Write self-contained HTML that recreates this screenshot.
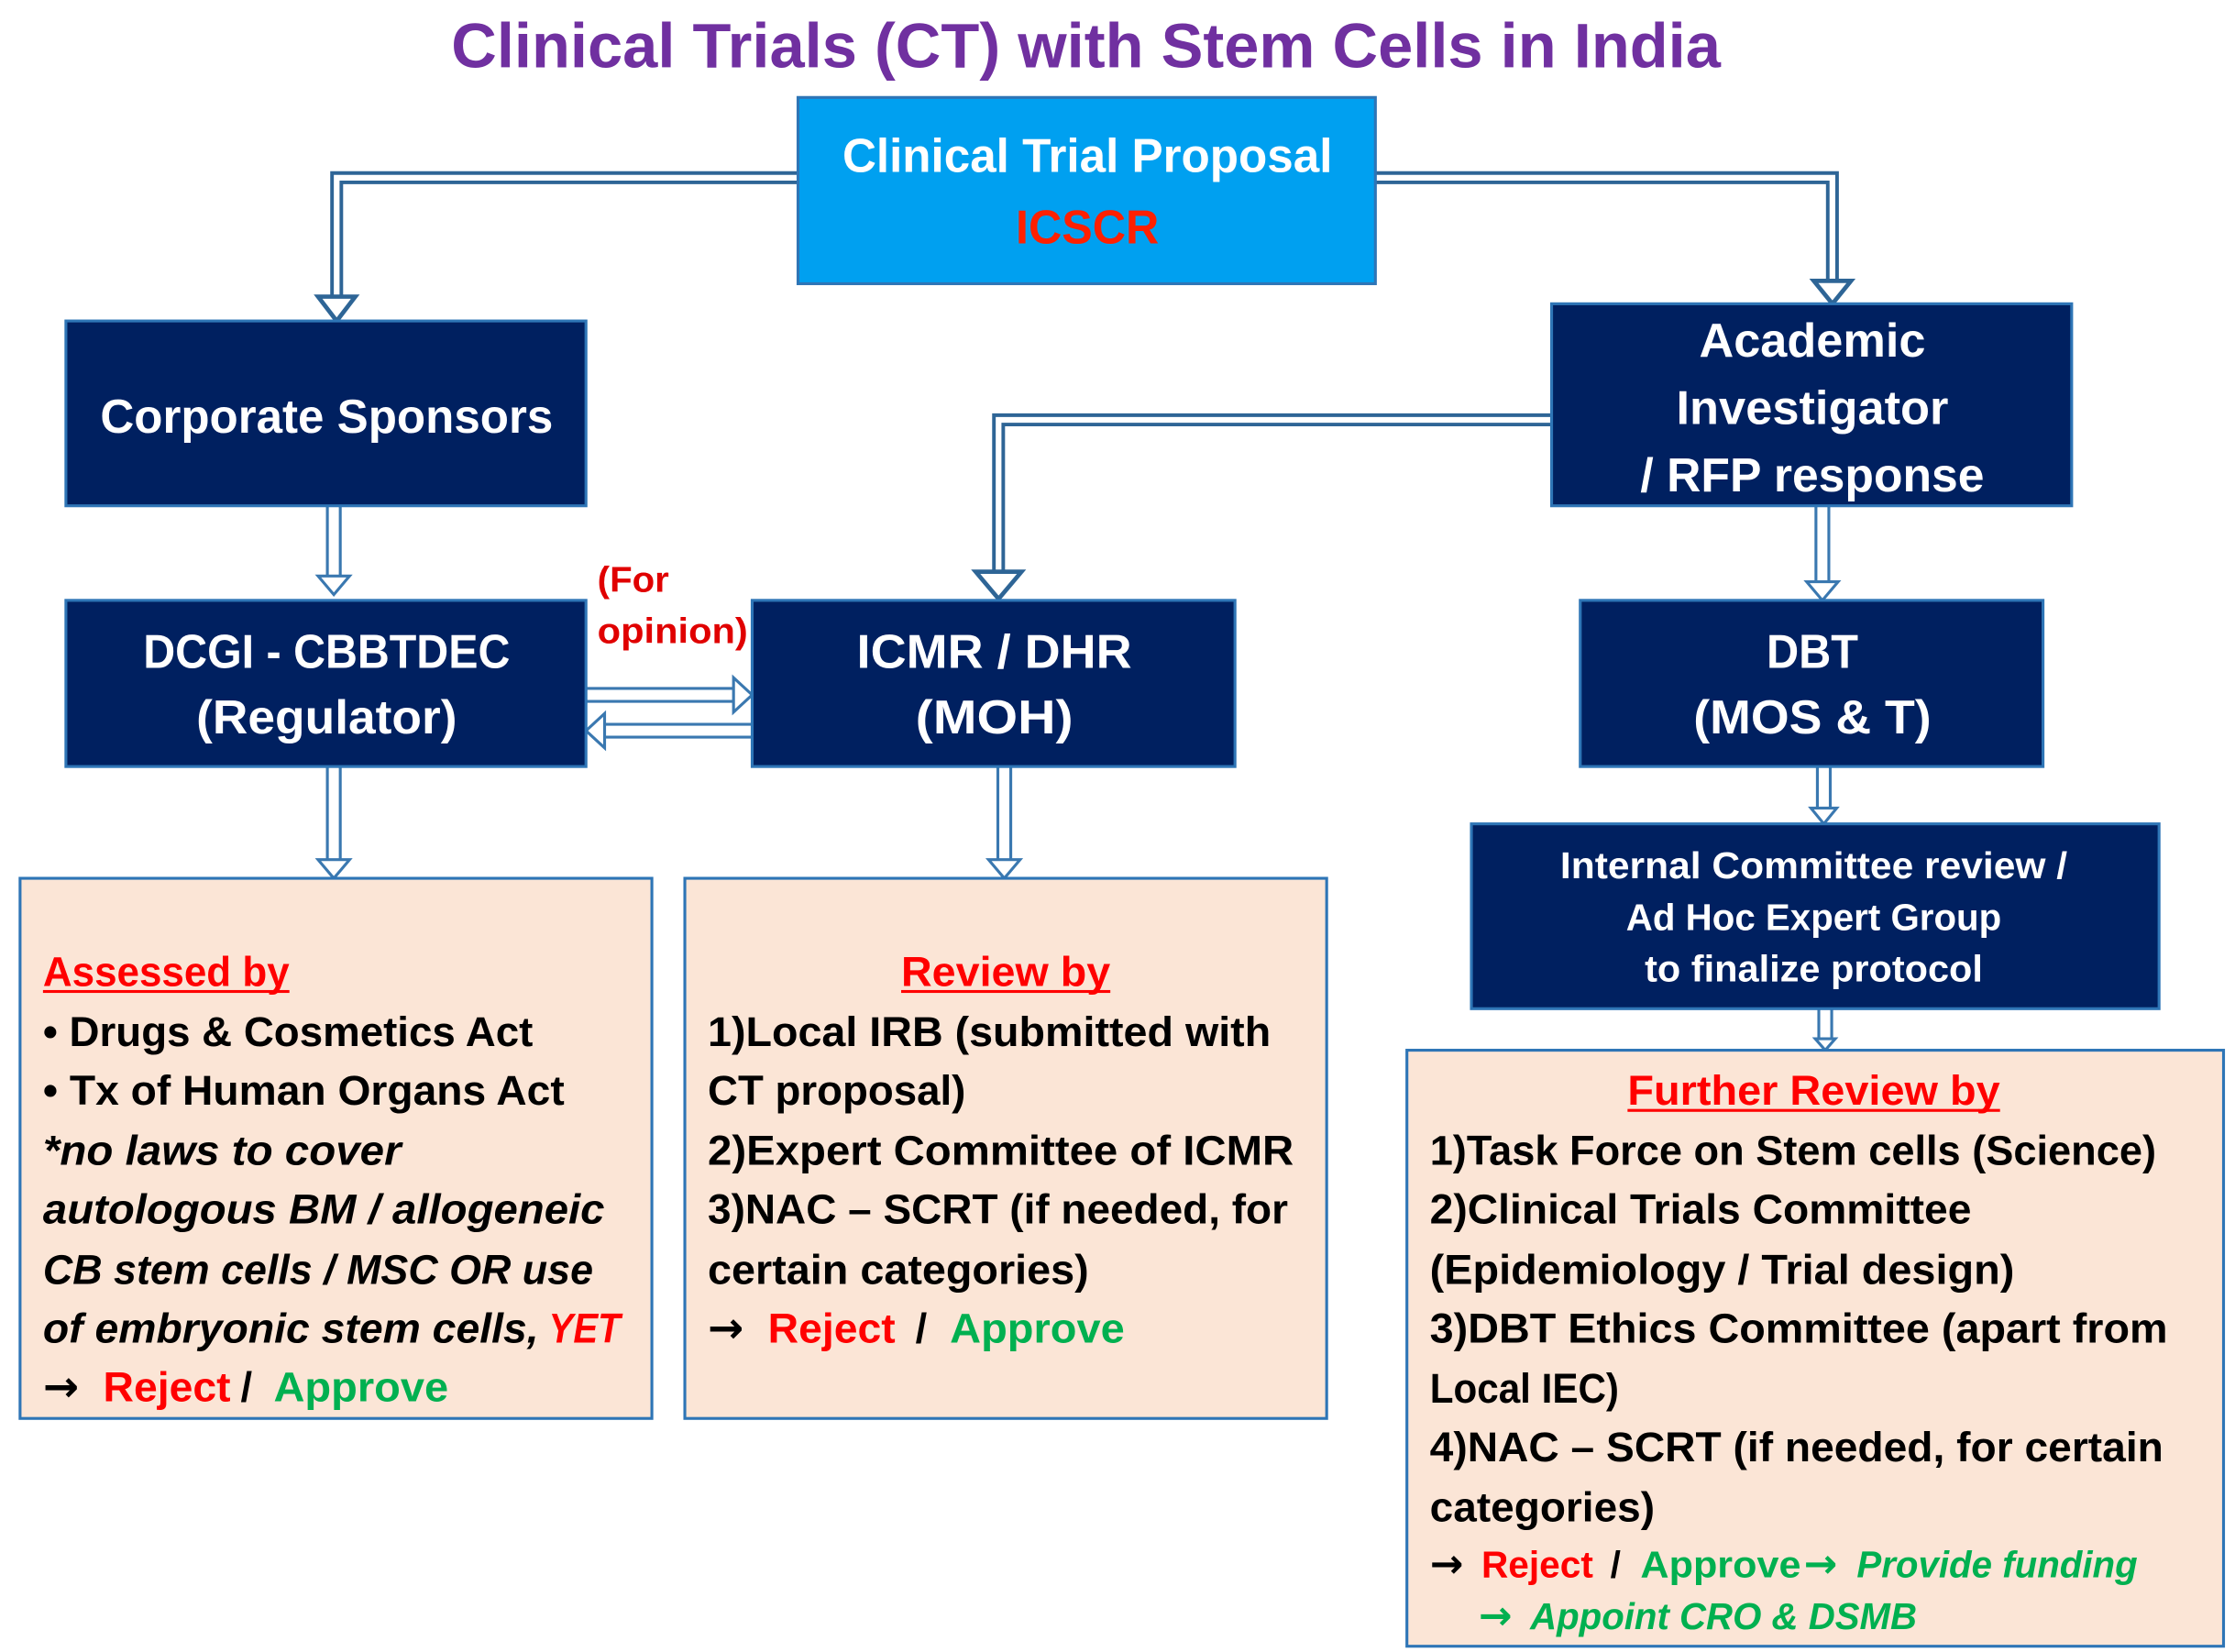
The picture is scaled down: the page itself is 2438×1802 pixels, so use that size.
<!DOCTYPE html>
<html><head><meta charset="utf-8"><style>
html,body{margin:0;padding:0;background:#fff}
svg{display:block}
text{font-family:"Liberation Sans",sans-serif;font-weight:bold}
.ar{font-family:"DejaVu Sans",sans-serif;font-weight:bold}
</style></head><body>
<svg width="2438" height="1802" viewBox="0 0 1560 1153" xmlns="http://www.w3.org/2000/svg">
<rect width="1560" height="1153" fill="#fff"/>
<text x="758" y="47" font-size="44" fill="#7030A0" text-anchor="middle" textLength="886" lengthAdjust="spacingAndGlyphs">Clinical Trials (CT) with Stem Cells in India</text>

<g fill="none" stroke-linejoin="miter">
<path d="M557,124 H235 V206" stroke="#2E6596" stroke-width="9"/>
<path d="M557,124 H235 V206" stroke="#fff" stroke-width="4"/>
<path d="M960,124 H1279 V196" stroke="#2E6596" stroke-width="9"/>
<path d="M960,124 H1279 V196" stroke="#fff" stroke-width="4"/>
<path d="M1083,293 H697 V400" stroke="#2E6596" stroke-width="9"/>
<path d="M1083,293 H697 V400" stroke="#fff" stroke-width="4"/>
</g>
<g fill="#fff" stroke="#2E6596" stroke-width="3">
<polygon points="222,207 248,207 235,224"/>
<polygon points="1266,196 1292,196 1279,212"/>
<polygon points="681,399 713,399 697,418"/>
</g>
<g fill="none">
<path d="M233,353 V403 M1272,353 V407 M233,535 V601 M701,535 V601 M1273,535 V565 M1274,704 V726" stroke="#3A78B0" stroke-width="11"/>
<path d="M233,353 V405 M1272,353 V409 M233,535 V603 M701,535 V603 M1273,535 V567 M1274,704 V728" stroke="#fff" stroke-width="7"/>
<path d="M409,485 H513 M525,510 H421" stroke="#3A78B0" stroke-width="11"/>
<path d="M407,485 H515 M527,510 H419" stroke="#fff" stroke-width="7"/>
</g>
<g fill="#fff" stroke="#3A78B0" stroke-width="2">
<polygon points="222,402 244,402 233,415"/>
<polygon points="1261,406 1283,406 1272,419"/>
<polygon points="222,600 244,600 233,613"/>
<polygon points="690,600 712,600 701,613"/>
<polygon points="1264,564 1282,564 1273,575"/>
<polygon points="1267,725 1281,725 1274,733"/>
<polygon points="512,473 512,497 525,485"/>
<polygon points="422,498 422,522 409,510"/>
</g>

<rect x="557" y="68" width="403" height="130" fill="#00A0F0" stroke="#2E75B6" stroke-width="2"/>
<text x="759" y="120" font-size="33" fill="#fff" text-anchor="middle" textLength="342" lengthAdjust="spacingAndGlyphs">Clinical Trial Proposal</text>
<text x="759" y="170" font-size="33" fill="#FF2000" text-anchor="middle" textLength="100" lengthAdjust="spacingAndGlyphs">ICSCR</text>

<g fill="#002060" stroke="#2E75B6" stroke-width="2">
<rect x="46" y="224" width="363" height="129"/>
<rect x="1083" y="212" width="363" height="141"/>
<rect x="46" y="419" width="363" height="116"/>
<rect x="525" y="419" width="337" height="116"/>
<rect x="1103" y="419" width="323" height="116"/>
<rect x="1027" y="575" width="480" height="129"/>
</g>
<g fill="#fff" font-size="33" text-anchor="middle">
<text x="228" y="302" textLength="316" lengthAdjust="spacingAndGlyphs">Corporate Sponsors</text>
<text x="1265" y="249" textLength="158" lengthAdjust="spacingAndGlyphs">Academic</text>
<text x="1265" y="296" textLength="190" lengthAdjust="spacingAndGlyphs">Investigator</text>
<text x="1265" y="343" textLength="240" lengthAdjust="spacingAndGlyphs">/ RFP response</text>
<text x="228" y="466" textLength="256" lengthAdjust="spacingAndGlyphs">DCGI - CBBTDEC</text>
<text x="228" y="512" textLength="182" lengthAdjust="spacingAndGlyphs">(Regulator)</text>
<text x="694" y="466" textLength="192" lengthAdjust="spacingAndGlyphs">ICMR / DHR</text>
<text x="694" y="512" textLength="110" lengthAdjust="spacingAndGlyphs">(MOH)</text>
<text x="1265" y="466" textLength="64" lengthAdjust="spacingAndGlyphs">DBT</text>
<text x="1265" y="512" textLength="166" lengthAdjust="spacingAndGlyphs">(MOS &amp; T)</text>
</g>
<g fill="#fff" font-size="26" text-anchor="middle">
<text x="1266" y="613" textLength="354" lengthAdjust="spacingAndGlyphs">Internal Committee review /</text>
<text x="1266" y="649" textLength="262" lengthAdjust="spacingAndGlyphs">Ad Hoc Expert Group</text>
<text x="1266" y="685" textLength="236" lengthAdjust="spacingAndGlyphs">to finalize protocol</text>
</g>
<g fill="#E00000" font-size="25">
<text x="417" y="413" textLength="50" lengthAdjust="spacingAndGlyphs">(For</text>
<text x="417" y="449" textLength="105" lengthAdjust="spacingAndGlyphs">opinion)</text>
</g>

<g fill="#FBE5D6" stroke="#2E75B6" stroke-width="2">
<rect x="14" y="613" width="441" height="377"/>
<rect x="478" y="613" width="448" height="377"/>
<rect x="982" y="733" width="570" height="416"/>
</g>

<g font-size="29" fill="#000">
<text x="30" y="688" fill="#FF0000" textLength="172" lengthAdjust="spacingAndGlyphs">Assessed by</text>
<rect x="30" y="691" width="172" height="2" fill="#FF0000"/>
<text x="30" y="730" textLength="342" lengthAdjust="spacingAndGlyphs">• Drugs &amp; Cosmetics Act</text>
<text x="30" y="771" textLength="364" lengthAdjust="spacingAndGlyphs">• Tx of Human Organs Act</text>
<g font-style="italic">
<text x="30" y="813" textLength="250" lengthAdjust="spacingAndGlyphs">*no laws to cover</text>
<text x="30" y="854" textLength="392" lengthAdjust="spacingAndGlyphs">autologous  BM / allogeneic</text>
<text x="30" y="896" textLength="384" lengthAdjust="spacingAndGlyphs">CB stem cells / MSC OR use</text>
<text x="30" y="937" textLength="346" lengthAdjust="spacingAndGlyphs">of embryonic stem cells,</text>
<text x="383" y="937" fill="#FF0000" textLength="50" lengthAdjust="spacingAndGlyphs">YET</text>
</g>
<text class="ar" x="30" y="978" font-size="30">→</text>
<text x="72" y="978" fill="#FF0000" textLength="89" lengthAdjust="spacingAndGlyphs">Reject</text>
<text x="168" y="978">/</text>
<text x="191" y="978" fill="#00B050" textLength="122" lengthAdjust="spacingAndGlyphs">Approve</text>
</g>

<g font-size="29" fill="#000">
<text x="702" y="688" fill="#FF0000" text-anchor="middle" textLength="146" lengthAdjust="spacingAndGlyphs">Review by</text>
<rect x="629" y="691" width="146" height="2" fill="#FF0000"/>
<text x="494" y="730" textLength="393" lengthAdjust="spacingAndGlyphs">1)Local IRB (submitted with</text>
<text x="494" y="771" textLength="180" lengthAdjust="spacingAndGlyphs">CT proposal)</text>
<text x="494" y="813" textLength="409" lengthAdjust="spacingAndGlyphs">2)Expert Committee of ICMR</text>
<text x="494" y="854" textLength="405" lengthAdjust="spacingAndGlyphs">3)NAC – SCRT (if needed, for</text>
<text x="494" y="896" textLength="266" lengthAdjust="spacingAndGlyphs">certain categories)</text>
<text class="ar" x="494" y="937" font-size="30">→</text>
<text x="536" y="937" fill="#FF0000" textLength="89" lengthAdjust="spacingAndGlyphs">Reject</text>
<text x="639" y="937">/</text>
<text x="663" y="937" fill="#00B050" textLength="122" lengthAdjust="spacingAndGlyphs">Approve</text>
</g>

<g font-size="29" fill="#000">
<text x="1266" y="771" fill="#FF0000" text-anchor="middle" textLength="260" lengthAdjust="spacingAndGlyphs">Further Review by</text>
<rect x="1136" y="774" width="260" height="2" fill="#FF0000"/>
<text x="998" y="813" textLength="507" lengthAdjust="spacingAndGlyphs">1)Task Force on Stem cells (Science)</text>
<text x="998" y="854" textLength="378" lengthAdjust="spacingAndGlyphs">2)Clinical Trials Committee</text>
<text x="998" y="896" textLength="408" lengthAdjust="spacingAndGlyphs">(Epidemiology / Trial design)</text>
<text x="998" y="937" textLength="515" lengthAdjust="spacingAndGlyphs">3)DBT Ethics Committee (apart from</text>
<text x="998" y="979" textLength="132" lengthAdjust="spacingAndGlyphs">Local IEC)</text>
<text x="998" y="1020" textLength="512" lengthAdjust="spacingAndGlyphs">4)NAC – SCRT (if needed, for certain</text>
<text x="998" y="1062" textLength="157" lengthAdjust="spacingAndGlyphs">categories)</text>
<g font-size="26">
<text class="ar" x="998" y="1101" font-size="28">→</text>
<text x="1034" y="1101" fill="#FF0000" textLength="78" lengthAdjust="spacingAndGlyphs">Reject</text>
<text x="1124" y="1101">/</text>
<text x="1145" y="1101" fill="#00B050" textLength="112" lengthAdjust="spacingAndGlyphs">Approve</text>
<text class="ar" x="1259" y="1101" fill="#00B050" font-size="28">→</text>
<text x="1296" y="1101" fill="#00B050" font-style="italic" textLength="196" lengthAdjust="spacingAndGlyphs">Provide funding</text>
<text class="ar" x="1032" y="1137" fill="#00B050" font-size="28">→</text>
<text x="1068" y="1137" fill="#00B050" font-style="italic" textLength="270" lengthAdjust="spacingAndGlyphs">Appoint CRO &amp; DSMB</text>
</g>
</g>
</svg>
</body></html>
